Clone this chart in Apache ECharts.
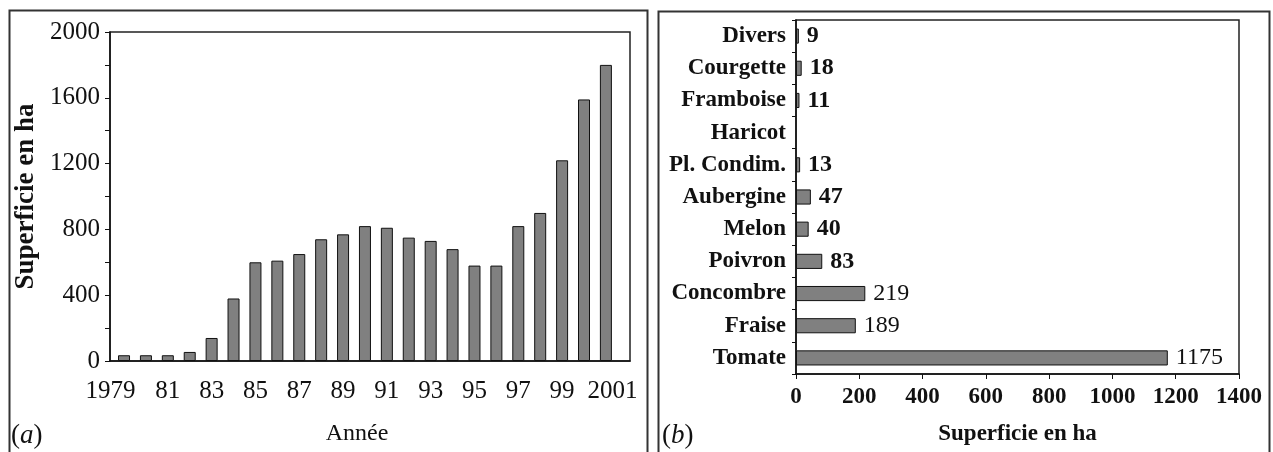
<!DOCTYPE html>
<html>
<head>
<meta charset="utf-8">
<script src="https://cdn.jsdelivr.net/npm/echarts@6/dist/echarts.min.js"></script>
<style>
html,body{margin:0;padding:0;background:#fff;}
#chart{width:1273px;height:452px;}
</style>
</head>
<body>
<div id="chart"></div>
<script>
// ---- Data (a): area by year ----
const years = [1979,1980,1981,1982,1983,1984,1985,1986,1987,1988,1989,1990,1991,1992,1993,1994,1995,1996,1997,1998,1999,2000,2001];
const areaByYear = [35,35,35,55,140,380,600,610,650,740,770,820,810,750,730,680,580,580,820,900,1220,1590,1800];
const yearTickLabels = [1979,1981,1983,1985,1987,1989,1991,1993,1995,1997,1999,2001];

// ---- Data (b): area by crop ----
const crops = ['Tomate','Fraise','Concombre','Poivron','Melon','Aubergine','Pl. Condim.','Haricot','Framboise','Courgette','Divers'];
const cropArea = [1175,189,219,83,40,47,13,null,11,18,9];

const FONT = "'Liberation Serif','Times New Roman',serif";
const INK = '#111';

const chart = echarts.init(document.getElementById('chart'), null, {renderer:'canvas'});

const option = {
  animation: false,
  backgroundColor: '#fff',
  grid: [
    {left:110, top:32, width:520, height:329, show:true, borderColor:'#222', borderWidth:1.5, backgroundColor:'#fff'},
    {left:796, top:20, width:443, height:354, show:true, borderColor:'#222', borderWidth:1.5, backgroundColor:'#fff'}
  ],
  xAxis: [
    {
      gridIndex:0, type:'value', min:1978.36, max:2002.1,
      splitLine:{show:false},
      axisLine:{show:true, onZero:false, lineStyle:{color:INK, width:1.5}},
      axisTick:{show:false},
      axisLabel:{
        customValues: yearTickLabels,
        margin:18, fontSize:25, fontFamily:FONT, color:INK,
        formatter: function(v){
          if (v === years[0]) return '{first|' + v + '}';
          if (v === years[years.length-1]) return '{last|' + v + '}';
          return String(v).slice(2);
        },
        rich:{
          first:{fontSize:25, fontFamily:FONT, color:INK, padding:[0,27,0,0]},
          last:{fontSize:25, fontFamily:FONT, color:INK, padding:[0,0,0,13]}
        }
      },
      name:'Année', nameLocation:'middle', nameGap:61,
      nameTextStyle:{fontSize:24, fontFamily:FONT, color:INK, padding:[0,26,0,0]}
    },
    {
      gridIndex:1, type:'value', min:0, max:1400, interval:200,
      splitLine:{show:false},
      axisLine:{show:true, onZero:false, lineStyle:{color:INK, width:1.5}},
      axisTick:{show:true, length:5, lineStyle:{color:INK}},
      axisLabel:{margin:12, fontSize:23, fontWeight:'bold', fontFamily:FONT, color:INK,
        formatter: function(v){ return String(v); }},
      name:'Superficie en ha', nameLocation:'middle', nameGap:49,
      nameTextStyle:{fontSize:23, fontWeight:'bold', fontFamily:FONT, color:INK}
    }
  ],
  yAxis: [
    {
      gridIndex:0, type:'value', min:0, max:2000, interval:200,
      splitLine:{show:false},
      axisLine:{show:true, lineStyle:{color:INK, width:1.5}},
      axisTick:{show:true, length:5, lineStyle:{color:INK}},
      axisLabel:{
        margin:10, fontSize:25, fontFamily:FONT, color:INK,
        formatter: function(v){ return v % 400 === 0 ? String(v) : ''; }
      },
      name:'Superficie en ha', nameLocation:'middle', nameGap:70,
      nameTextStyle:{fontSize:27, fontWeight:'bold', fontFamily:FONT, color:INK}
    },
    {
      gridIndex:1, type:'category', data:crops,
      axisLine:{show:true, lineStyle:{color:INK, width:1.5}},
      axisTick:{show:true, length:4, lineStyle:{color:INK}},
      axisLabel:{interval:0, margin:10, fontSize:23, fontWeight:'bold', fontFamily:FONT, color:INK}
    }
  ],
  series: [
    {
      type:'bar', xAxisIndex:0, yAxisIndex:0,
      data: years.map(function(y,i){ return [y, areaByYear[i]]; }),
      barWidth:12,
      itemStyle:{color:'#808080', borderColor:INK, borderWidth:1}
    },
    {
      type:'bar', xAxisIndex:1, yAxisIndex:1,
      data: cropArea,
      barCategoryGap:'53%',
      itemStyle:{color:'#808080', borderColor:INK, borderWidth:1},
      label:{
        show:true, position:'right', distance:8,
        formatter: function(p){
          if (p.value == null) return '';
          return p.value >= 100 ? '{n|' + p.value + '}' : '{b|' + p.value + '}';
        },
        rich:{
          n:{fontSize:24, fontFamily:FONT, color:INK},
          b:{fontSize:24, fontWeight:'bold', fontFamily:FONT, color:INK}
        }
      }
    }
  ],
  graphic: [
    {type:'rect', left:7, top:8, shape:{width:638, height:470}, style:{fill:'none', stroke:'#333', lineWidth:2}, silent:true},
    {type:'rect', left:656, top:9, shape:{width:611, height:470}, style:{fill:'none', stroke:'#333', lineWidth:2}, silent:true},
    {type:'text', left:11, top:422, style:{
      text:'{p|(}{i|a}{p|)}',
      rich:{p:{fontSize:27, fontFamily:FONT, fill:INK}, i:{fontSize:27, fontStyle:'italic', fontFamily:FONT, fill:INK}}
    }},
    {type:'text', left:662, top:422, style:{
      text:'{p|(}{i|b}{p|)}',
      rich:{p:{fontSize:27, fontFamily:FONT, fill:INK}, i:{fontSize:27, fontStyle:'italic', fontFamily:FONT, fill:INK}}
    }}
  ]
};
chart.setOption(option);
</script>
</body>
</html>
